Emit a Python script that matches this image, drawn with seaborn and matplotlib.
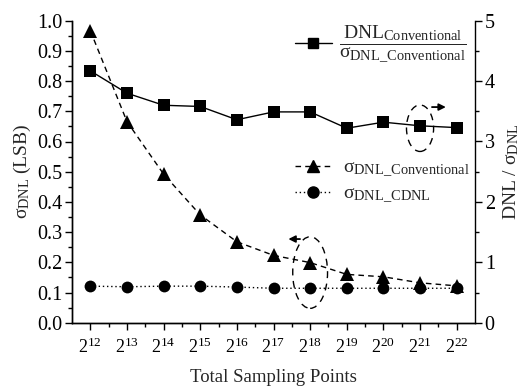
import seaborn as sns
import matplotlib.pyplot as plt
import matplotlib._mathtext as mathtext_internal
from matplotlib.lines import Line2D
from matplotlib.patches import Ellipse

# data (x = log2 of total sampling points)
exponents = [12, 13, 14, 15, 16, 17, 18, 19, 20, 21, 22]
sigma_conv = [0.967, 0.666, 0.492, 0.357, 0.268, 0.223, 0.199, 0.160, 0.152, 0.132, 0.122]
sigma_cdnl = [0.121, 0.119, 0.121, 0.121, 0.118, 0.114, 0.114, 0.114, 0.114, 0.114, 0.114]
ratio_conv = [4.17, 3.80, 3.60, 3.58, 3.36, 3.49, 3.49, 3.22, 3.32, 3.26, 3.23]
xtick_labels = [r'$2^{%d}$' % e for e in exponents]

sns.set_style('ticks')
plt.rcParams['font.family'] = ['Liberation Serif', 'DejaVu Serif']
plt.rcParams['mathtext.fontset'] = 'custom'
plt.rcParams['mathtext.rm'] = 'Liberation Serif'
plt.rcParams['mathtext.it'] = 'Liberation Serif'
plt.rcParams['mathtext.bf'] = 'Liberation Serif:bold'
plt.rcParams['axes.linewidth'] = 1.0
# subscripts in the original are a bit larger than mathtext's default
mathtext_internal.SHRINK_FACTOR = 0.74

fs = 14

fig = plt.figure(figsize=(5.22, 3.87), dpi=100)
ax = fig.add_axes([72/522, 1-322.7/387, 403/522, 302/387])
ax2 = ax.twinx()

# left axis series
sns.lineplot(x=exponents, y=sigma_conv, ax=ax, color='black', lw=1,
             linestyle=(0, (4, 3)), marker='^', markersize=10,
             markeredgecolor='black', markeredgewidth=0)
sns.lineplot(x=exponents, y=sigma_cdnl, ax=ax, color='black', lw=1,
             linestyle=(0, (1, 2)), marker='o', markersize=8.5,
             markeredgecolor='black', markeredgewidth=0)
# right axis series
sns.lineplot(x=exponents, y=ratio_conv, ax=ax2, color='black', lw=1,
             linestyle='-', marker='s', markersize=8,
             markeredgecolor='black', markeredgewidth=0)

ax.set_xlim(11.5, 22.5)
ax.set_ylim(0, 1.0)
ax2.set_ylim(0, 5)

ax.set_xticks(exponents)
ax.set_xticklabels(xtick_labels)
ax.set_xticks([e + 0.5 for e in exponents[:-1]], minor=True)
ax.set_yticks([i / 10 for i in range(11)])
ax.set_yticklabels(['%.1f' % (i / 10) for i in range(11)])
ax.set_yticks([i / 20 for i in range(1, 20, 2)], minor=True)
ax2.set_yticks(range(6))
ax2.set_yticks([i + 0.5 for i in range(5)], minor=True)

for a in (ax, ax2):
    a.tick_params(which='major', direction='out', length=5, width=1,
                  labelsize=14.5, colors='black', pad=2)
    a.tick_params(which='minor', direction='out', length=3, width=1, colors='black')
    a.spines['top'].set_visible(False)
    for s in a.spines.values():
        s.set_color('black')
ax.spines['right'].set_visible(False)
ax.tick_params(axis='x', which='major', labelsize=13, pad=5)

ax.set_xlabel('Total Sampling Points', fontsize=13.5, labelpad=9)
ax.set_ylabel(r'$\sigma_{\mathrm{DNL}}$ (LSB)', fontsize=fs, labelpad=3)
ax2.set_ylabel(r'DNL / $\sigma_{\mathrm{DNL}}$', fontsize=fs)
ax2.yaxis.set_label_coords(1.066, 0.5)

# dashed ellipses and arrows
ax2.add_patch(Ellipse((exponents[9], 3.22), width=0.74, height=0.77, fill=False,
                      ec='black', lw=1, ls=(0, (5, 4))))
ax.add_patch(Ellipse((exponents[6], 0.166), width=0.95, height=0.237, fill=False,
                     ec='black', lw=1, ls=(0, (5, 4))))
ax2.annotate('', xy=(21.78, 3.57), xytext=(21.25, 3.57),
             arrowprops=dict(arrowstyle='-|>', color='black', lw=1.3, mutation_scale=10))
ax.annotate('', xy=(17.33, 0.277), xytext=(17.8, 0.277),
            arrowprops=dict(arrowstyle='-|>', color='black', lw=1.3, mutation_scale=10))

# legends
frac = r'$\dfrac{\mathrm{DNL}_{\mathrm{Conventional}}}{\sigma_{\mathrm{DNL\_Conventional}}}$'
h_sq = Line2D([], [], color='black', lw=1, marker='s', markersize=7)
leg1 = ax2.legend([h_sq], [frac], loc='center left',
                  bbox_to_anchor=(295/522, 1-44/387), bbox_transform=fig.transFigure,
                  frameon=False, borderpad=0, borderaxespad=0, handlelength=1.9,
                  handletextpad=0.36, fontsize=fs)
ax2.add_artist(leg1)

h_tri = Line2D([], [], color='black', lw=1, ls=(0, (4, 3)), marker='^', markersize=9)
h_cir = Line2D([], [], color='black', lw=1, ls=(0, (1, 2)), marker='o', markersize=8)
ax2.legend([h_tri, h_cir],
           [r'$\sigma_{\mathrm{DNL\_Conventional}}$', r'$\sigma_{\mathrm{DNL\_CDNL}}$'],
           loc='center left', bbox_to_anchor=(295/522, 1-182/387),
           bbox_transform=fig.transFigure, frameon=False, borderpad=0,
           borderaxespad=0, handlelength=1.9, handletextpad=0.57,
           labelspacing=0.3, fontsize=fs)

plt.savefig('out.png', dpi=100)
